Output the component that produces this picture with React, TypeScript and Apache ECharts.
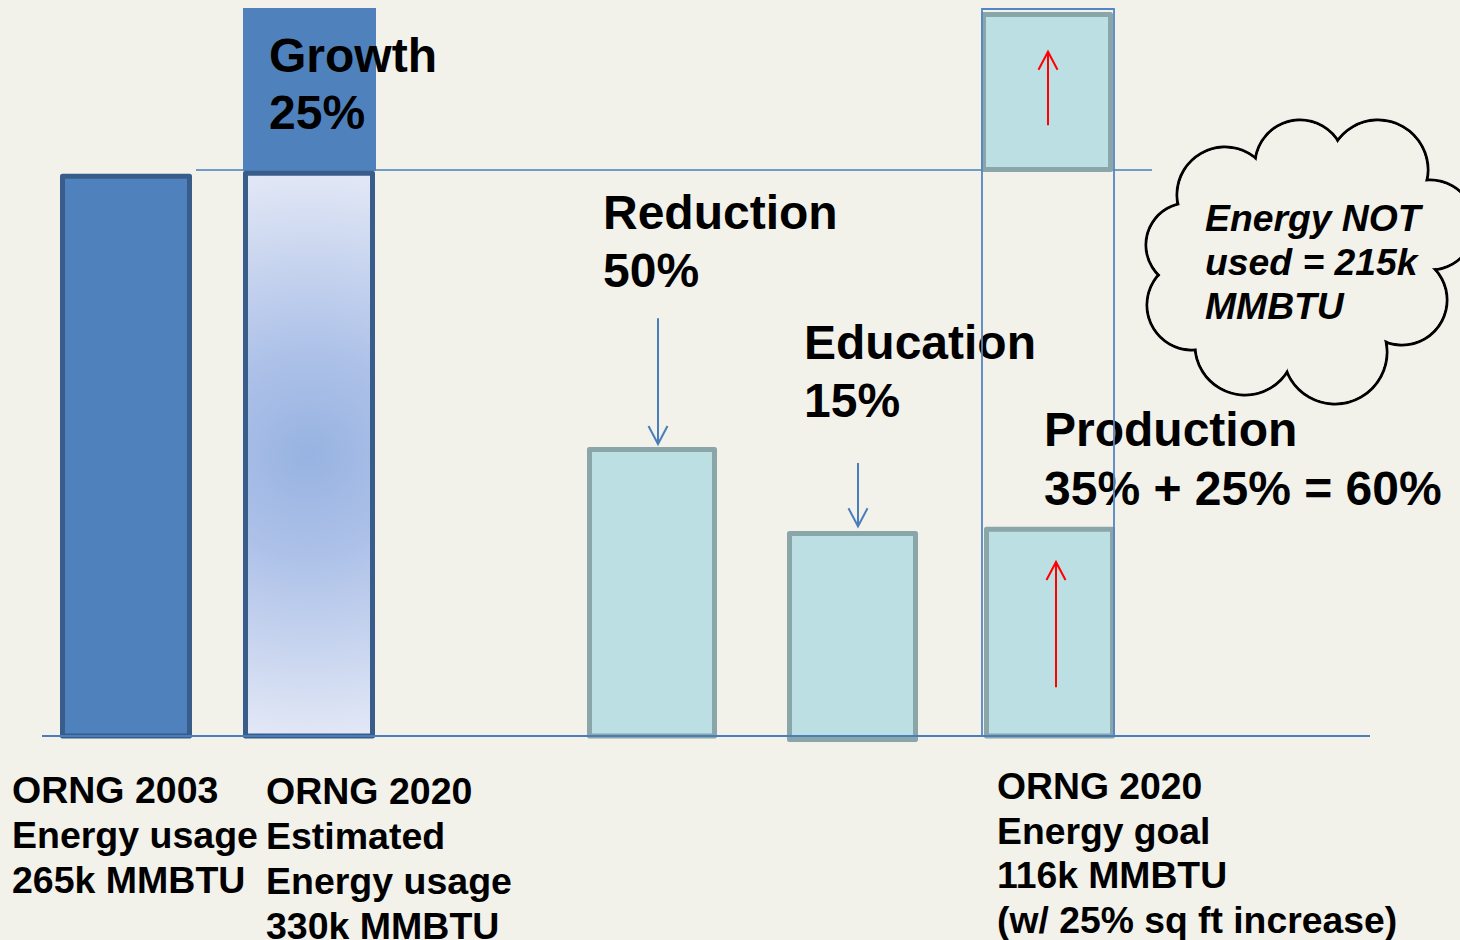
import React, { useEffect, useRef } from "react";
import * as echarts from "echarts";

// ---- data (relative energy heights, 0 = baseline, 100 = top of slide area) ----
const categories = ["ORNG 2003", "ORNG 2020 Estimated", "Reduction", "Education", "Production"];
const barCenters = [126, 309, 652, 852.5, 1049.5];
const barBases = [0, 0, 0, -0.48, 0];
const barTops = [76.9, 77.3, 39.35, 27.8, 28.4];
const barWidths = [127, 127, 125, 126, 126];
const barKinds = ["solid", "gradient", "light", "light", "light"];

// growth block above the 2020 estimate
const growthCenter = [309.5];
const growthRange = [[77.6, 100]];
const growthWidth = [133];

// production (upper) box and outline of the production column
const prodTopCenter = [1047];
const prodTopRange = [[77.8, 99.1]];
const prodTopWidth = [127];
const outlineCenter = [1048];
const outlineRange = [[0, 99.86]];
const outlineWidth = [132];

// guide lines: [xStart, xEnd, y]
const growthLine = [[196, 1152, 77.75]];
const baseLine = [[42, 1370, 0]];

// arrows: [x, yFrom, yTo, colorIndex]
const arrows = [
  [658, 57.4, 40.1, 0],
  [858, 37.5, 28.8, 0],
  [1048, 83.9, 94.0, 1],
  [1056, 6.7, 23.9, 1],
];

const labelBlocks = [
  { text: "Growth\n25%", x: 269, c1: 55, lh: 57, size: 48 },
  { text: "Reduction\n50%", x: 603, c1: 212, lh: 58, size: 48 },
  { text: "Education\n15%", x: 804, c1: 342, lh: 58, size: 48 },
  { text: "Production\n35% + 25% = 60%", x: 1044, c1: 429, lh: 59, size: 48 },
  { text: "ORNG 2003\nEnergy usage\n265k MMBTU", x: 12, c1: 790, lh: 45, size: 37.5 },
  { text: "ORNG 2020\nEstimated\nEnergy usage\n330k MMBTU", x: 266, c1: 791, lh: 45, size: 37.5 },
  { text: "ORNG 2020\nEnergy goal\n116k MMBTU\n(w/ 25% sq ft increase)", x: 997, c1: 786, lh: 44.5, size: 37.3 },
];

const cloudCircles = [
  [1225, 195, 48],
  [1300, 165, 45],
  [1378, 170, 50],
  [1430, 225, 45],
  [1402, 300, 45],
  [1335, 352, 52],
  [1245, 345, 50],
  [1192, 305, 45],
  [1188, 245, 42],
  [1300, 262, 105],
];

const BG = "#f2f1ea";
const BLUE = "#4f81bd";
const DARK = "#385d8a";
const LIGHT = "#bbdfe2";
const LIGHT_BORDER = "#8aa6a8";
const LINE = "#4a7ebb";

function kindStyle(kind: string, rect?: any) {
  if (kind === "solid") return { fill: BLUE, stroke: DARK, lineWidth: 5, lineJoin: "round" };
  if (kind === "gradient") {
    const cx = rect.x + rect.width / 2;
    const cy = rect.y + rect.height / 2;
    return {
      fill: new echarts.graphic.RadialGradient(
        cx,
        cy,
        rect.height / 2 + 10,
        [
          { offset: 0, color: "#97b3e1" },
          { offset: 0.35, color: "#adc1e8" },
          { offset: 1, color: "#e4e9f6" },
        ],
        true
      ),
      stroke: DARK,
      lineWidth: 5,
      lineJoin: "round",
    };
  }
  return { fill: LIGHT, stroke: LIGHT_BORDER, lineWidth: 5, lineJoin: "round" };
}

function rectSeries(name: string, data: any[], z: number, styleFn: (i: number, rect: any) => any) {
  return {
    type: "custom",
    name,
    z,
    silent: true,
    data,
    renderItem: (params: any, api: any) => {
      const x = api.value(0);
      const y0 = api.value(1);
      const y1 = api.value(2);
      const w = api.value(3);
      const p0 = api.coord([x, y0]);
      const p1 = api.coord([x, y1]);
      const width = api.size([w, 0])[0];
      const rect = { x: p0[0] - width / 2, y: p1[1], width, height: p0[1] - p1[1] };
      return {
        type: "rect",
        shape: rect,
        style: styleFn(params.dataIndex, rect),
      };
    },
  };
}

function lineSeries(name: string, data: number[][], z: number, width: number) {
  return {
    type: "custom",
    name,
    z,
    silent: true,
    data,
    renderItem: (params: any, api: any) => {
      const a = api.coord([api.value(0), api.value(2)]);
      const b = api.coord([api.value(1), api.value(2)]);
      return {
        type: "line",
        shape: { x1: a[0], y1: a[1], x2: b[0], y2: b[1] },
        style: { stroke: LINE, lineWidth: width },
      };
    },
  };
}

export default function App() {
  const ref = useRef<HTMLDivElement>(null);

  useEffect(() => {
    document.body.style.margin = "0";
    document.body.style.background = BG;
    const chart = echarts.init(ref.current!, null, { renderer: "svg" });

    const graphics: any[] = [];
    labelBlocks.forEach((b) => {
      graphics.push({
        type: "text",
        z: 3,
        x: b.x,
        y: b.c1 - b.lh / 2,
        style: {
          text: b.text,
          fill: "#000",
          font: `bold ${b.size}px "Liberation Sans", Arial, sans-serif`,
          lineHeight: b.lh,
          verticalAlign: "top",
          align: "left",
        },
      });
    });
    // cloud: outline layer then fill layer (union outline)
    cloudCircles.forEach((c) =>
      graphics.push({
        type: "circle",
        z: 10,
        shape: { cx: c[0], cy: c[1], r: c[2] },
        style: { fill: BG, stroke: "#000", lineWidth: 3 },
      })
    );
    cloudCircles.forEach((c) =>
      graphics.push({
        type: "circle",
        z: 11,
        shape: { cx: c[0], cy: c[1], r: c[2] - 1.4 },
        style: { fill: BG },
      })
    );
    graphics.push({
      type: "text",
      z: 12,
      x: 1205,
      y: 218 - 22,
      style: {
        text: "Energy NOT\nused = 215k\nMMBTU",
        fill: "#000",
        font: 'italic bold 37.3px "Liberation Sans", Arial, sans-serif',
        lineHeight: 44,
        verticalAlign: "top",
        align: "left",
      },
    });

    const barData = categories.map((c, i) => ({
      name: c,
      value: [barCenters[i], barBases[i], barTops[i], barWidths[i]],
    }));

    const option: any = {
      animation: false,
      backgroundColor: BG,
      grid: { left: 0, right: 0, top: 8, bottom: 204 },
      xAxis: { type: "value", min: 0, max: 1460, show: false },
      yAxis: { type: "value", min: 0, max: 100, show: false },
      graphic: graphics,
      series: [
        lineSeries("growthLine", growthLine, 1, 1.5),
        rectSeries(
          "growth",
          growthCenter.map((x, i) => [x, growthRange[i][0], growthRange[i][1], growthWidth[i]]),
          1,
          () => ({ fill: BLUE })
        ),
        rectSeries("bars", barData, 2, (i, rect) => kindStyle(barKinds[i], rect)),
        rectSeries(
          "productionTop",
          prodTopCenter.map((x, i) => [x, prodTopRange[i][0], prodTopRange[i][1], prodTopWidth[i]]),
          2,
          () => kindStyle("light")
        ),
        rectSeries(
          "outline",
          outlineCenter.map((x, i) => [x, outlineRange[i][0], outlineRange[i][1], outlineWidth[i]]),
          4,
          () => ({ fill: "none", stroke: "#5585c5", lineWidth: 1.8 })
        ),
        lineSeries("baseLine", baseLine, 4, 2),
        {
          type: "custom",
          name: "arrows",
          z: 5,
          silent: true,
          data: arrows,
          renderItem: (params: any, api: any) => {
            const x = api.value(0);
            const a = api.coord([x, api.value(1)]);
            const b = api.coord([x, api.value(2)]);
            const color = api.value(3) === 1 ? "#ff0000" : LINE;
            const dir = b[1] > a[1] ? 1 : -1;
            return {
              type: "group",
              children: [
                {
                  type: "line",
                  shape: { x1: a[0], y1: a[1], x2: b[0], y2: b[1] },
                  style: { stroke: color, lineWidth: 2 },
                },
                {
                  type: "polyline",
                  shape: {
                    points: [
                      [b[0] - 9.5, b[1] - dir * 18],
                      [b[0], b[1]],
                      [b[0] + 9.5, b[1] - dir * 18],
                    ],
                  },
                  style: { stroke: color, lineWidth: 2, fill: "none" },
                },
              ],
            };
          },
        },
      ],
    };
    chart.setOption(option);
    return () => chart.dispose();
  }, []);

  return <div ref={ref} style={{ width: 1460, height: 940 }} />;
}
